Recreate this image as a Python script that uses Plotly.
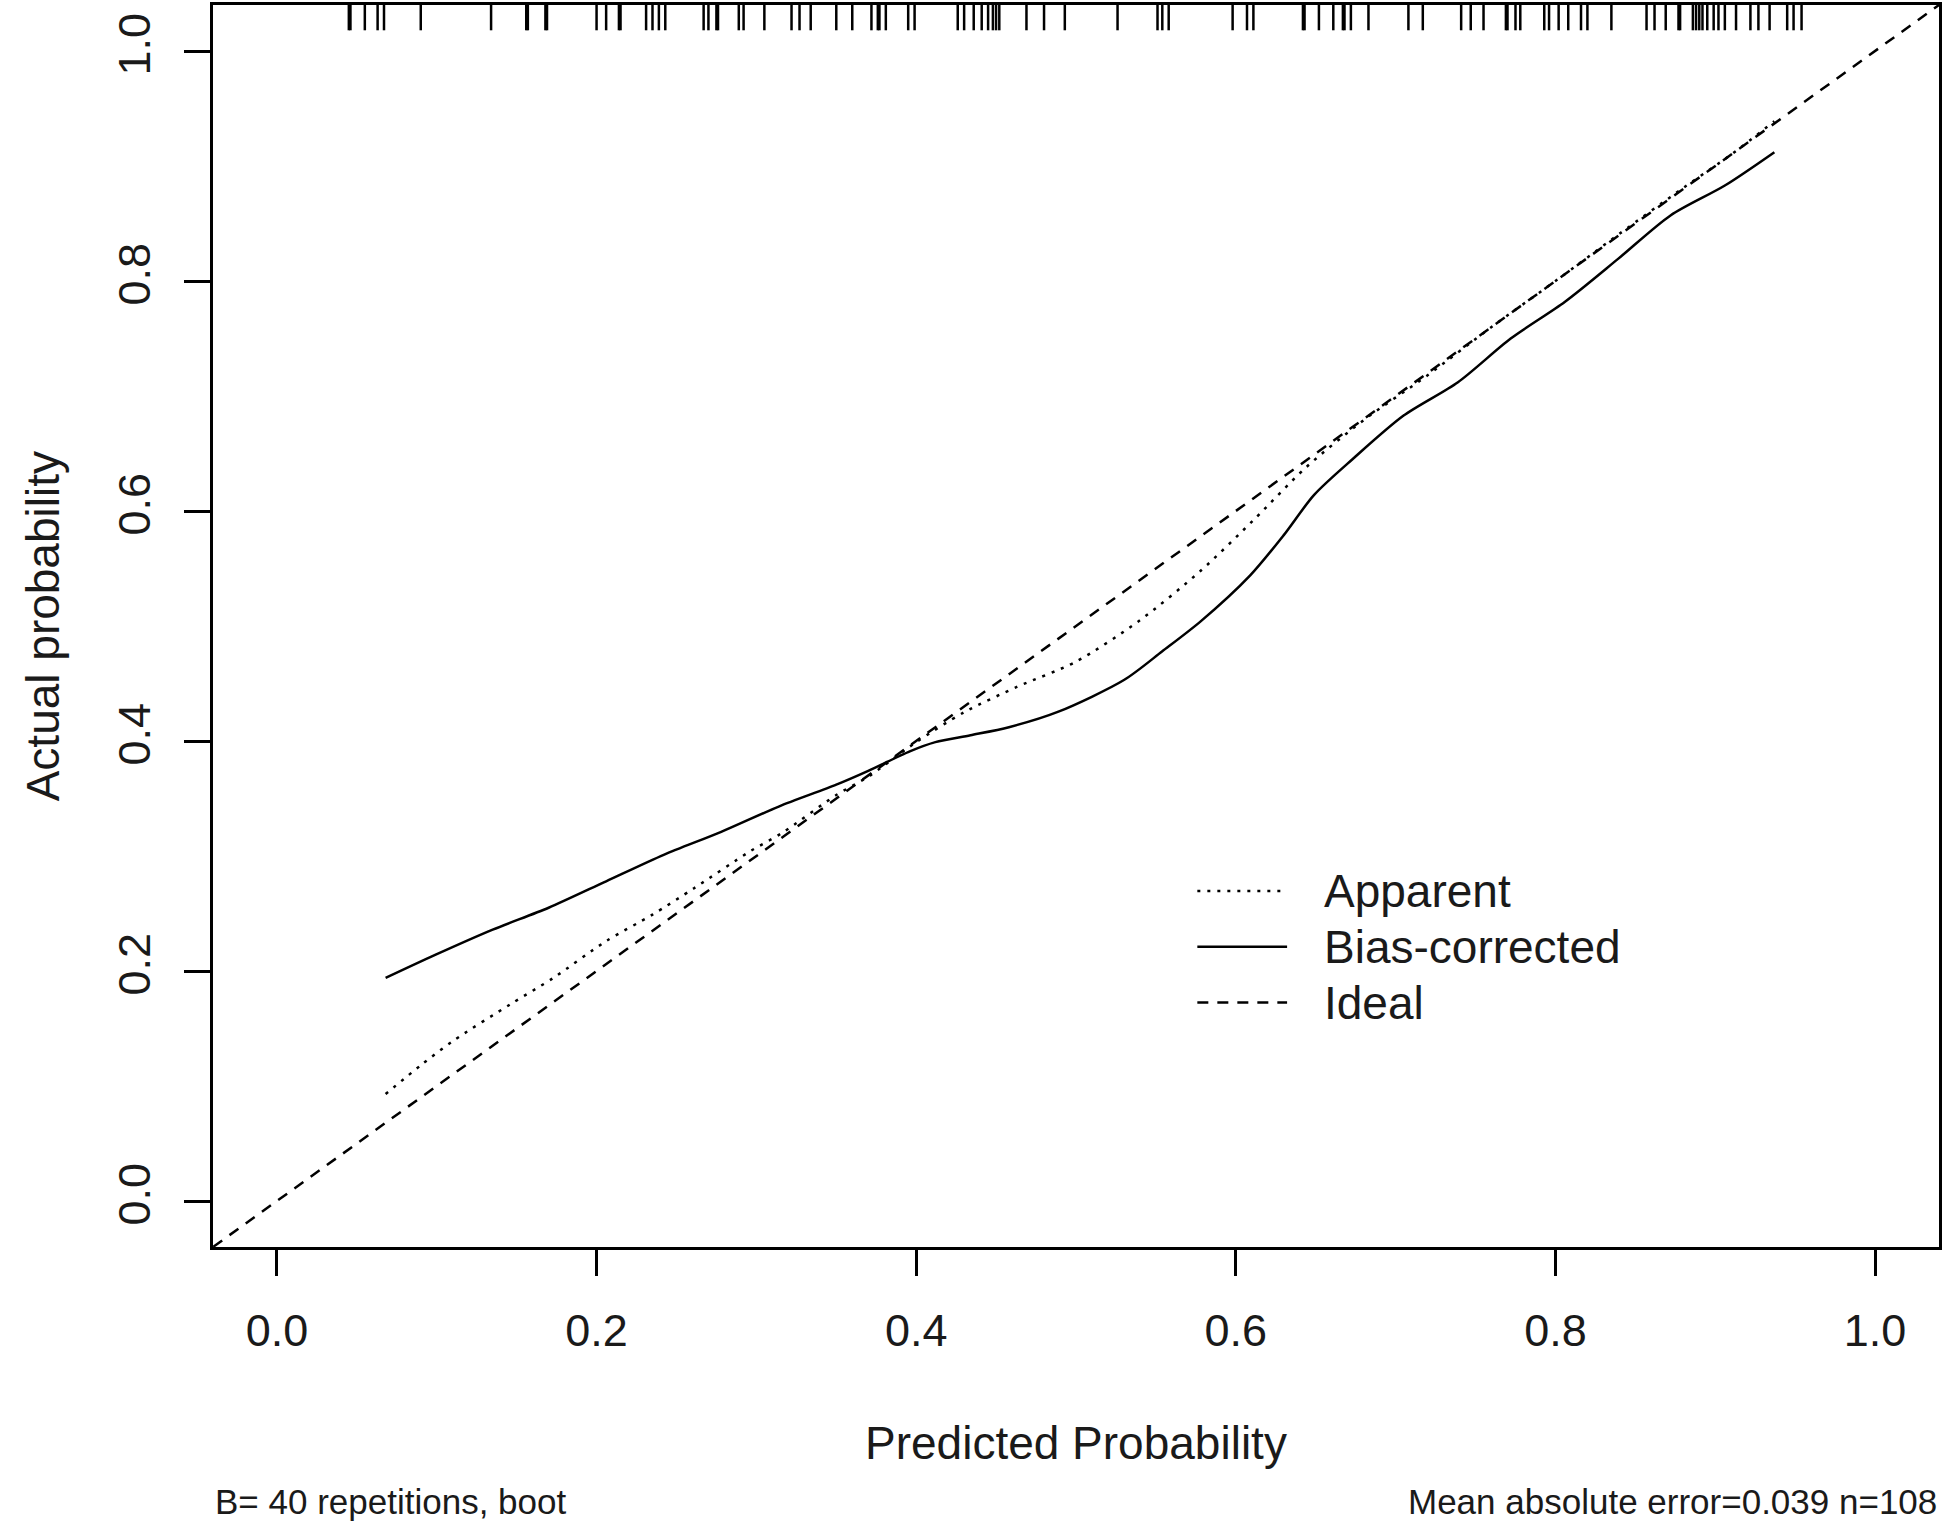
import plotly.graph_objects as go

# ---------------- data ----------------
APPARENT_X = [0.068, 0.090, 0.110, 0.146, 0.173, 0.206, 0.235, 0.261, 0.296, 0.316,
              0.350, 0.370, 0.400, 0.430, 0.463, 0.500, 0.540, 0.578, 0.611, 0.644,
              0.680, 0.720, 0.760, 0.800, 0.840, 0.880, 0.910, 0.937]
APPARENT_Y = [0.093, 0.118, 0.139, 0.171, 0.194, 0.226, 0.249, 0.272, 0.304, 0.320,
              0.353, 0.369, 0.399, 0.425, 0.447, 0.469, 0.505, 0.548, 0.592, 0.638,
              0.679, 0.718, 0.760, 0.800, 0.841, 0.881, 0.910, 0.939]

BIAS_X = [0.068, 0.099, 0.135, 0.170, 0.206, 0.242, 0.278, 0.314, 0.350, 0.370,
          0.396, 0.412, 0.434, 0.458, 0.489, 0.530, 0.554, 0.578, 0.609, 0.630,
          0.649, 0.673, 0.705, 0.739, 0.772, 0.806, 0.839, 0.872, 0.906, 0.937]
BIAS_Y = [0.194, 0.214, 0.236, 0.255, 0.278, 0.301, 0.321, 0.343, 0.362, 0.374,
          0.391, 0.399, 0.405, 0.412, 0.4255, 0.453, 0.478, 0.504, 0.544, 0.579,
          0.614, 0.645, 0.683, 0.712, 0.750, 0.782, 0.819, 0.857, 0.883, 0.912]

IDEAL_X = [-0.05, 1.05]
IDEAL_Y = [-0.05, 1.05]

RUG = [0.045, 0.046, 0.055, 0.063, 0.067, 0.090, 0.134, 0.156, 0.157, 0.168, 0.169,
       0.200, 0.206, 0.214, 0.215, 0.231, 0.235, 0.239, 0.243, 0.267, 0.270, 0.275,
       0.276, 0.289, 0.292, 0.305, 0.322, 0.327, 0.334, 0.350, 0.360, 0.372, 0.376,
       0.377, 0.381, 0.395, 0.399, 0.426, 0.430, 0.436, 0.441, 0.445, 0.448, 0.450,
       0.452, 0.469, 0.480, 0.493, 0.526, 0.551, 0.554, 0.558, 0.598, 0.607, 0.611,
       0.642, 0.643, 0.652, 0.661, 0.667, 0.668, 0.672, 0.683, 0.708, 0.717, 0.741,
       0.747, 0.755, 0.769, 0.770, 0.775, 0.778, 0.793, 0.796, 0.802, 0.808, 0.816,
       0.820, 0.835, 0.857, 0.862, 0.869, 0.877, 0.878, 0.886, 0.888, 0.890, 0.892,
       0.895, 0.899, 0.902, 0.906, 0.913, 0.922, 0.927, 0.934, 0.945, 0.949, 0.954]

TICKS = [0.0, 0.2, 0.4, 0.6, 0.8, 1.0]
TICK_LABELS = ["0.0", "0.2", "0.4", "0.6", "0.8", "1.0"]

LEGEND_NAMES = ["Apparent", "Bias-corrected", "Ideal"]
X_TITLE = "Predicted Probability"
Y_TITLE = "Actual probability"
SUB_LEFT = "B= 40 repetitions, boot"
SUB_RIGHT = "Mean absolute error=0.039 n=108"

# ---------------- style ----------------
FONT = "Liberation Sans, Arial, sans-serif"
TXT = "#1a1a1a"
LW = 2.5
DOT = "3px,7px"
DASH = "11px,9px"
AX_RANGE = [-0.04, 1.04]
RUG_LO, RUG_HI = 1.018, 1.04

fig = go.Figure()

# rug of predicted probabilities along the top
rx, ry = [], []
for v in RUG:
    rx += [v, v, None]
    ry += [RUG_LO, RUG_HI, None]
fig.add_trace(go.Scatter(x=rx, y=ry, mode="lines",
                         line=dict(color="black", width=LW),
                         showlegend=False, hoverinfo="skip"))

fig.add_trace(go.Scatter(x=IDEAL_X, y=IDEAL_Y, mode="lines", name=LEGEND_NAMES[2],
                         line=dict(color="black", width=LW, dash=DASH),
                         showlegend=False))
fig.add_trace(go.Scatter(x=APPARENT_X, y=APPARENT_Y, mode="lines", name=LEGEND_NAMES[0],
                         line=dict(color="black", width=LW, dash=DOT,
                                   shape="spline", smoothing=0.8),
                         showlegend=False))
fig.add_trace(go.Scatter(x=BIAS_X, y=BIAS_Y, mode="lines", name=LEGEND_NAMES[1],
                         line=dict(color="black", width=LW,
                                   shape="spline", smoothing=0.8),
                         showlegend=False))

axis_common = dict(
    range=AX_RANGE, tickmode="array", tickvals=TICKS, ticktext=TICK_LABELS,
    showgrid=False, zeroline=False, showline=True, mirror=True,
    linecolor="black", linewidth=LW, ticks="outside", ticklen=26,
    tickwidth=LW, tickcolor="black",
    tickfont=dict(family=FONT, size=45, color=TXT),
)
fig.update_xaxes(**axis_common, ticklabelstandoff=16)
fig.update_yaxes(**axis_common, tickangle=-90, ticklabelstandoff=16)

# legend drawn as key lines + text (paper coordinates)
leg_x0, leg_x1, leg_tx = 0.5703, 0.6223, 0.6426
leg_rows = [0.2867, 0.2418, 0.1968]
leg_dash = [DOT, "solid", DASH]
shapes = []
annotations = []
for name, yy, dsh in zip(LEGEND_NAMES, leg_rows, leg_dash):
    shapes.append(dict(type="line", xref="paper", yref="paper",
                       x0=leg_x0, x1=leg_x1, y0=yy, y1=yy,
                       line=dict(color="black", width=LW, dash=dsh)))
    annotations.append(dict(text=name, xref="paper", yref="paper", x=leg_tx, y=yy,
                            xanchor="left", yanchor="middle", showarrow=False,
                            font=dict(family=FONT, size=46, color=TXT)))

annotations += [
    dict(text=X_TITLE, xref="paper", yref="paper", x=0.5, y=-0.158,
         xanchor="center", yanchor="middle", showarrow=False,
         font=dict(family=FONT, size=46, color=TXT)),
    dict(text=Y_TITLE, xref="paper", yref="paper", x=-0.0983, y=0.5,
         xanchor="center", yanchor="middle", showarrow=False, textangle=-90,
         font=dict(family=FONT, size=46, color=TXT)),
    dict(text=SUB_LEFT, xref="paper", yref="paper", x=0.0, y=-0.2053,
         xanchor="left", yanchor="middle", showarrow=False,
         font=dict(family=FONT, size=35, color=TXT)),
    dict(text=SUB_RIGHT, xref="paper", yref="paper", x=1.0, y=-0.2053,
         xanchor="right", yanchor="middle", showarrow=False,
         font=dict(family=FONT, size=35, color=TXT)),
]

fig.update_layout(
    width=1944, height=1522,
    margin=dict(l=213, r=2, t=2, b=275),
    plot_bgcolor="white", paper_bgcolor="white",
    showlegend=False,
    shapes=shapes, annotations=annotations,
)

fig.write_html(
    "out.html",
    config={"displayModeBar": False},
    post_script="document.body.style.margin='0';document.body.style.padding='0';"
                "document.body.style.overflow='hidden';",
)
